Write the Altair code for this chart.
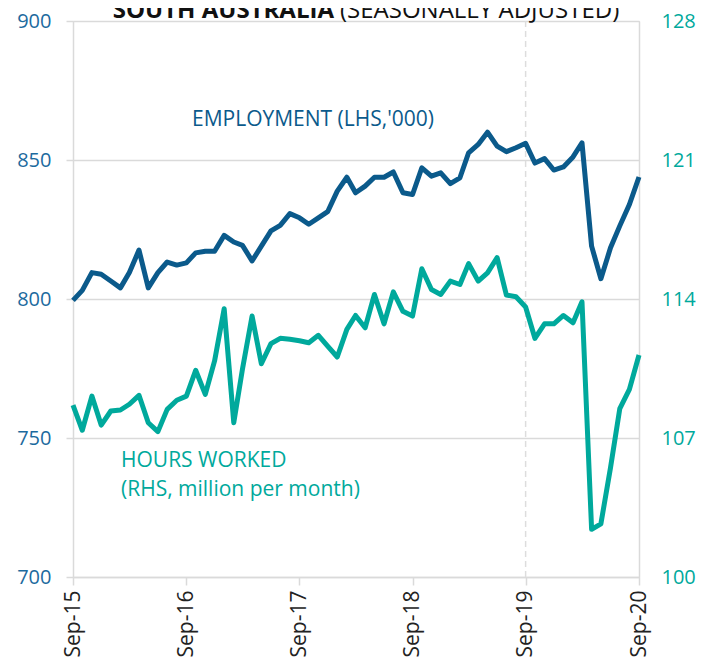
import altair as alt
import pandas as pd

# ---- data ----
months = pd.date_range("2015-09-01", periods=61, freq="MS").strftime("%Y-%m-%d").tolist()

employment = [
    799.5, 803.1, 809.5, 808.9, 806.5, 804.0, 809.5, 817.6, 804.0, 809.5,
    813.3, 812.2, 813.0, 816.6, 817.2, 817.2, 822.9, 820.5, 819.3, 813.7,
    819.0, 824.5, 826.5, 830.7, 829.2, 826.9, 829.2, 831.4, 838.8, 843.8,
    838.2, 840.6, 843.8, 843.8, 845.7, 838.2, 837.6, 847.2, 844.2, 845.4,
    841.5, 843.6, 852.6, 855.6, 860.0, 855.0, 853.0, 854.4, 856.0, 848.9,
    850.5, 846.4, 847.5, 851.1, 856.2, 819.0, 807.3, 818.4, 826.3, 834.0,
    843.9,
]

hours = [
    108.65, 107.39, 109.11, 107.65, 108.36, 108.41, 108.70, 109.15, 107.77, 107.32,
    108.44, 108.90, 109.11, 110.41, 109.20, 110.88, 113.51, 107.77, 110.47, 113.14,
    110.74, 111.75, 112.02, 111.97, 111.90, 111.80, 112.17, 111.63, 111.08, 112.47,
    113.17, 112.55, 114.23, 112.75, 114.36, 113.38, 113.14, 115.52, 114.48, 114.23,
    114.90, 114.73, 115.78, 114.90, 115.32, 116.08, 114.20, 114.11, 113.60, 112.02,
    112.75, 112.75, 113.17, 112.80, 113.86, 102.40, 102.68, 105.50, 108.48, 109.45,
    111.18,
]

tick_years = [2015, 2016, 2017, 2018, 2019, 2020]
left_ticks = [700, 750, 800, 850, 900]
right_ticks = [100, 107, 114, 121, 128]
marker_date = ["2019-09-01"]

df = pd.DataFrame({"month": months, "employment": employment, "hours": hours})

FONT = "Open Sans"
BLUE = "#0b5a8b"
BLUE_LABEL = "#1c6a9e"
TEAL = "#00a99c"
GRID = "#dadada"

x_enc = alt.X(
    "month:T",
    scale=alt.Scale(
        type="utc",
        domain=[alt.DateTime(year=2015, month=9, date=1, utc=True),
                alt.DateTime(year=2020, month=9, date=1, utc=True)],
    ),
    axis=alt.Axis(
        values=[alt.DateTime(year=y, month=9, date=1, utc=True) for y in tick_years],
        labelExpr="utcFormat(datum.value, '%b-%y')",
        labelAngle=270,
        labelAlign="right",
        labelBaseline="middle",
        labelFontSize=21,
        labelColor="#222222",
        labelFont=FONT,
        labelPadding=5,
        labelOverlap=False,
        tickSize=8,
        tickColor=GRID,
        tickWidth=1.5,
        domainColor=GRID,
        domainWidth=1.5,
        grid=False,
        title=None,
    ),
)

base = alt.Chart(df)

emp_line = base.mark_line(color=BLUE, strokeWidth=5, strokeJoin="round").encode(
    x=x_enc,
    y=alt.Y(
        "employment:Q",
        scale=alt.Scale(domain=[700, 900], nice=False, zero=False),
        axis=alt.Axis(
            orient="left",
            values=left_ticks,
            labelFontSize=20,
            labelFont=FONT,
            labelColor=BLUE_LABEL,
            labelPadding=15,
            tickSize=7,
            tickColor=GRID,
            tickWidth=1.5,
            domainColor=GRID,
            domainWidth=1.5,
            grid=True,
            gridColor=GRID,
            gridWidth=1.5,
            title=None,
        ),
    ),
)

hours_line = base.mark_line(color=TEAL, strokeWidth=5, strokeJoin="round").encode(
    x=x_enc,
    y=alt.Y(
        "hours:Q",
        scale=alt.Scale(domain=[100, 128], nice=False, zero=False),
        axis=alt.Axis(
            orient="right",
            values=right_ticks,
            labelFontSize=20,
            labelFont=FONT,
            labelColor=TEAL,
            labelPadding=22,
            ticks=False,
            domainColor=GRID,
            domainWidth=1.5,
            grid=False,
            title=None,
        ),
    ),
)

rule = alt.Chart(pd.DataFrame({"d": marker_date})).mark_rule(
    color="#dddddd", strokeWidth=1.5, strokeDash=[6, 4]
).encode(x=alt.X("d:T", scale=alt.Scale(type="utc")))

def label(text, x, y, color, size=21, weight="normal", align="left"):
    return alt.Chart(pd.DataFrame({"t": [text]})).mark_text(
        font=FONT, fontSize=size, fontWeight=weight, color=color,
        align=align, baseline="alphabetic",
    ).encode(text="t:N", x=alt.value(x), y=alt.value(y))

emp_lbl = label("EMPLOYMENT (LHS,'000)", 119, 105, BLUE)
hrs_lbl1 = label("HOURS WORKED", 48, 446, TEAL)
hrs_lbl2 = label("(RHS, million per month)", 48, 475, TEAL)
title1 = label("SOUTH AUSTRALIA", 261, -3, "#111111", size=24, weight="bold", align="right")
title2 = label("(SEASONALLY ADJUSTED)", 267, -3, "#111111", size=24, align="left")

chart = alt.layer(
    rule, emp_line, hours_line, emp_lbl, hrs_lbl1, hrs_lbl2, title1, title2
).resolve_scale(y="independent").properties(
    width=566,
    height=556,
    autosize=alt.AutoSizeParams(type="none"),
    padding={"left": 65, "top": 13, "right": 60, "bottom": 80},
).configure_view(stroke=None).configure(background="white")

chart.save("out.html", embed_options={"renderer": "svg", "actions": False})
